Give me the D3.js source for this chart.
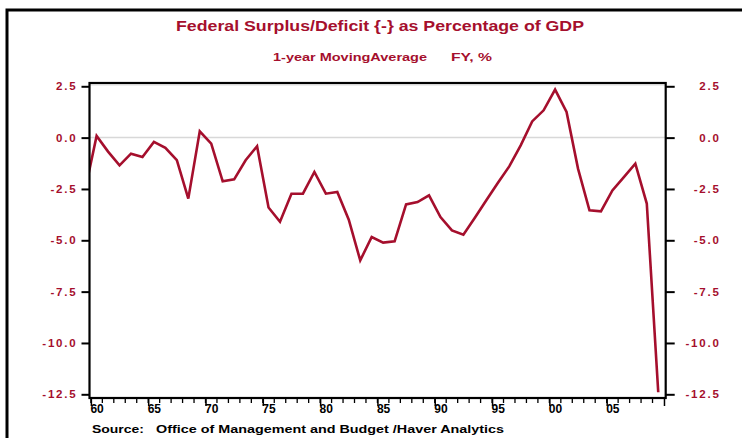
<!DOCTYPE html>
<html>
<head>
<meta charset="utf-8">
<script src="https://cdn.jsdelivr.net/npm/d3@7"></script>
<style>
  body { margin: 0; background: #fff; }
  svg { display: block; font-family: "Liberation Sans", Arial, sans-serif; }
</style>
</head>
<body>
<div id="chart-area"></div>
<script>
// fiscal years and surplus(+)/deficit(-) as % of GDP
var years = [1959, 1960, 1961, 1962, 1963, 1964, 1965, 1966, 1967, 1968, 1969,
    1970, 1971, 1972, 1973, 1974, 1975, 1976, 1977, 1978, 1979,
    1980, 1981, 1982, 1983, 1984, 1985, 1986, 1987, 1988, 1989,
    1990, 1991, 1992, 1993, 1994, 1995, 1996, 1997, 1998, 1999,
    2000, 2001, 2002, 2003, 2004, 2005, 2006, 2007, 2008, 2009];
var deficit = [-2.55, 0.08, -0.68, -1.35, -0.78, -0.94, -0.21, -0.5, -1.1, -2.97, 0.31,
    -0.29, -2.13, -2.03, -1.1, -0.42, -3.4, -4.1, -2.73, -2.73, -1.67,
    -2.73, -2.65, -4.0, -5.98, -4.84, -5.11, -5.05, -3.25, -3.14, -2.81,
    -3.87, -4.52, -4.73, -3.9, -3.05, -2.21, -1.4, -0.38, 0.79, 1.33,
    2.34, 1.25, -1.51, -3.54, -3.59, -2.57, -1.92, -1.27, -3.21, -12.4];
var yTicks = [2.5, 0.0, -2.5, -5.0, -7.5, -10.0, -12.5];
var xMajor = [1960, 1965, 1970, 1975, 1980, 1985, 1990, 1995, 2000, 2005];
var xLabels = ["60", "65", "70", "75", "80", "85", "90", "95", "00", "05"];

var red = "#a50f2d";
var width = 742;
var height = 438;
var plot = { left: 89.5, right: 665.7, top: 83, bottom: 398 };

var svg = d3.select("#chart-area").append("svg")
    .attr("width", width)
    .attr("height", height);

// outer frame (runs off the right and bottom edges)
svg.append("rect")
    .attr("x", 7).attr("y", 10)
    .attr("width", 780).attr("height", 460)
    .attr("fill", "none")
    .attr("stroke", "black")
    .attr("stroke-width", 3);

var x = d3.scaleLinear()
    .domain([1959.88, 2010.15])
    .range([plot.left, plot.right]);

var y = d3.scaleLinear()
    .domain([-12.68, 2.66])
    .range([plot.bottom, plot.top]);

// titles
svg.append("text")
    .attr("x", 176).attr("y", 31)
    .attr("textLength", 408).attr("lengthAdjust", "spacingAndGlyphs")
    .attr("font-size", "15px").attr("font-weight", "bold")
    .attr("fill", red)
    .text("Federal Surplus/Deficit {-} as Percentage of GDP");
svg.append("text")
    .attr("x", 273).attr("y", 61)
    .attr("textLength", 154).attr("lengthAdjust", "spacingAndGlyphs")
    .attr("font-size", "11px").attr("font-weight", "bold")
    .attr("fill", red)
    .text("1-year MovingAverage");
svg.append("text")
    .attr("x", 451).attr("y", 61)
    .attr("textLength", 41).attr("lengthAdjust", "spacingAndGlyphs")
    .attr("font-size", "11px").attr("font-weight", "bold")
    .attr("fill", red)
    .text("FY, %");

// zero line + light line under top border
svg.append("line")
    .attr("x1", plot.left).attr("x2", plot.right)
    .attr("y1", y(0)).attr("y2", y(0))
    .attr("stroke", "#d8d8d8").attr("stroke-width", 1.5);
svg.append("line")
    .attr("x1", plot.left).attr("x2", plot.right)
    .attr("y1", plot.top + 2).attr("y2", plot.top + 2)
    .attr("stroke", "#dcdcdc").attr("stroke-width", 1);

// series line, clipped to plot box
svg.append("clipPath").attr("id", "clip")
    .append("rect")
    .attr("x", plot.left).attr("y", plot.top - 5)
    .attr("width", plot.right - plot.left).attr("height", plot.bottom - plot.top + 10);

var data = years.map(function(d, i) { return { year: d, value: deficit[i] }; });
var line = d3.line()
    .x(function(d) { return x(d.year + 0.5); })
    .y(function(d) { return y(d.value); });

svg.append("path")
    .datum(data)
    .attr("clip-path", "url(#clip)")
    .attr("d", line)
    .attr("fill", "none")
    .attr("stroke", red)
    .attr("stroke-width", 2.6)
    .attr("stroke-linejoin", "miter");

// plot box
svg.append("rect")
    .attr("x", plot.left).attr("y", plot.top)
    .attr("width", plot.right - plot.left).attr("height", plot.bottom - plot.top)
    .attr("fill", "none")
    .attr("stroke", "black")
    .attr("stroke-width", 2.2);

// y axes
var fmt = function(d) { return d.toFixed(1); };
var leftAxis = d3.axisLeft(y).tickValues(yTicks).tickFormat(fmt).tickSize(8).tickPadding(4);
var rightAxis = d3.axisRight(y).tickValues(yTicks).tickFormat(fmt).tickSize(9).tickPadding(10);

var gl = svg.append("g")
    .attr("transform", "translate(" + plot.left + ",0)")
    .call(leftAxis);
var gr = svg.append("g")
    .attr("transform", "translate(" + plot.right + ",0)")
    .call(rightAxis);

[gl, gr].forEach(function(g) {
    g.select(".domain").remove();
    g.selectAll(".tick line").attr("stroke", "black").attr("stroke-width", 2);
    g.selectAll(".tick text")
        .attr("fill", red)
        .attr("font-size", "11.5px")
        .attr("font-weight", "bold")
        .attr("font-family", "\"Liberation Sans\", Arial, sans-serif")
        .attr("letter-spacing", "1.8px");
});
gr.selectAll(".tick text")
    .attr("text-anchor", "end")
    .attr("x", 55);

// x axis: minor ticks every year, major every 5
var minorYears = d3.range(1960, 2010);
svg.append("g").selectAll("line")
    .data(minorYears)
    .enter().append("line")
    .attr("x1", function(d) { return x(d); })
    .attr("x2", function(d) { return x(d); })
    .attr("y1", plot.bottom)
    .attr("y2", plot.bottom + 5)
    .attr("stroke", "black").attr("stroke-width", 1.3);

var bottomAxis = d3.axisBottom(x)
    .tickValues(xMajor.concat([2010]))
    .tickFormat(function(d) { var i = xMajor.indexOf(d); return i < 0 ? "" : xLabels[i]; })
    .tickSize(8).tickPadding(3);
var gx = svg.append("g")
    .attr("transform", "translate(0," + plot.bottom + ")")
    .call(bottomAxis);
gx.select(".domain").remove();
gx.selectAll(".tick line").attr("stroke", "black").attr("stroke-width", 1.5);
gx.selectAll(".tick text")
    .attr("fill", "black")
    .attr("font-size", "12px")
    .attr("font-weight", "bold")
    .attr("font-family", "\"Liberation Sans\", Arial, sans-serif")
    .attr("text-anchor", "start")
    .attr("x", -1)
    .attr("y", 6)
    .attr("dy", "0.71em");

// source
svg.append("text")
    .attr("x", 92).attr("y", 433)
    .attr("textLength", 52).attr("lengthAdjust", "spacingAndGlyphs")
    .attr("font-size", "11.5px").attr("font-weight", "bold")
    .text("Source:");
svg.append("text")
    .attr("x", 156).attr("y", 433)
    .attr("textLength", 348).attr("lengthAdjust", "spacingAndGlyphs")
    .attr("font-size", "11.5px").attr("font-weight", "bold")
    .text("Office of Management and Budget /Haver Analytics");
</script>
</body>
</html>
